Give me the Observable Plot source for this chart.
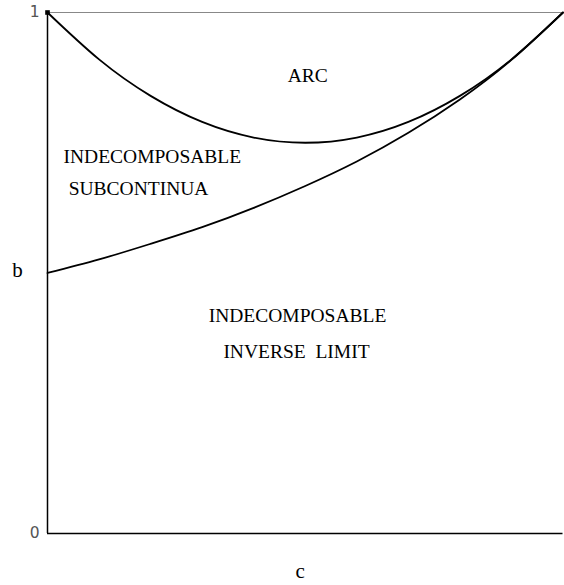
<!DOCTYPE html>
<html>
<head>
<meta charset="utf-8">
<script src="https://cdn.jsdelivr.net/npm/d3@7"></script>
<script src="https://cdn.jsdelivr.net/npm/@observablehq/plot@0.6"></script>
<style>
  html, body { margin: 0; padding: 0; background: #fff; }
  svg text { white-space: pre; }
</style>
</head>
<body>
<div id="chart"></div>
<script>
// parameter c (horizontal) and boundary values of b
const cValues = [0, 0.1, 0.2, 0.3, 0.4, 0.5, 0.6, 0.7, 0.8, 0.9, 1];
const arcBoundary = [1, 0.91, 0.84, 0.79, 0.76, 0.75, 0.76, 0.79, 0.84, 0.91, 1];
const limitBoundary = [0.5, 0.526, 0.556, 0.588, 0.625, 0.667, 0.714, 0.769, 0.833, 0.909, 1];

const yTickLabels = [0, 1];

// region labels: text, c, b, anchor
const regionText = ["ARC", "INDECOMPOSABLE", "SUBCONTINUA", "INDECOMPOSABLE", "INVERSE  LIMIT"];
const regionC = [0.505, 0.031, 0.041, 0.485, 0.483];
const regionB = [0.866, 0.712, 0.649, 0.405, 0.336];
const regionAnchor = ["middle", "start", "start", "middle", "middle"];

const upper = cValues.map((c, i) => ({c, b: arcBoundary[i]}));
const lower = cValues.map((c, i) => ({c, b: limitBoundary[i]}));
const regions = regionText.map((t, i) => ({t, c: regionC[i], b: regionB[i], a: regionAnchor[i]}));

const serif = "'Liberation Serif', 'Times New Roman', serif";

const chart = Plot.plot({
  width: 564,
  height: 585,
  marginLeft: 47,
  marginRight: 1.5,
  marginTop: 12,
  marginBottom: 52,
  x: {domain: [0, 1], axis: null},
  y: {domain: [0, 1], axis: null},
  style: {background: "#fff"},
  marks: [
    Plot.ruleY([1], {stroke: "#888", strokeWidth: 1}),
    Plot.ruleX([0], {stroke: "#000", strokeWidth: 1.5}),
    Plot.ruleY([0], {stroke: "#000", strokeWidth: 1.5}),
    Plot.line(upper, {x: "c", y: "b", curve: "natural", stroke: "#000", strokeWidth: 1.8}),
    Plot.line(lower, {x: "c", y: "b", curve: "natural", stroke: "#000", strokeWidth: 1.8}),
    Plot.dot([{c: 0, b: 1}], {x: "c", y: "b", symbol: "square", r: 2.6, fill: "#000", stroke: null}),
    Plot.text(regions.filter(d => d.a === "middle"), {
      x: "c", y: "b", text: "t", textAnchor: "middle", lineAnchor: "bottom",
      fontFamily: serif, fontSize: 19.5, fill: "#000"
    }),
    Plot.text(regions.filter(d => d.a === "start"), {
      x: "c", y: "b", text: "t", textAnchor: "start", lineAnchor: "bottom",
      fontFamily: serif, fontSize: 19.5, fill: "#000"
    }),
    Plot.text(yTickLabels, {
      x: 0, y: d => d, text: d => String(d), textAnchor: "end", dx: -8,
      lineAnchor: "middle", fontFamily: "'DejaVu Sans', sans-serif", fontSize: 15.5, fill: "#555"
    }),
    Plot.text(["b"], {
      x: 0, y: 0.505, text: d => d, dx: -30, textAnchor: "middle", lineAnchor: "middle",
      fontFamily: serif, fontSize: 21, fill: "#000"
    }),
    Plot.text(["c"], {
      x: 0.49, frameAnchor: "bottom", text: d => d, dy: 44, textAnchor: "middle", lineAnchor: "bottom",
      fontFamily: serif, fontSize: 21, fill: "#000"
    })
  ]
});

document.getElementById("chart").appendChild(chart);
</script>
</body>
</html>
